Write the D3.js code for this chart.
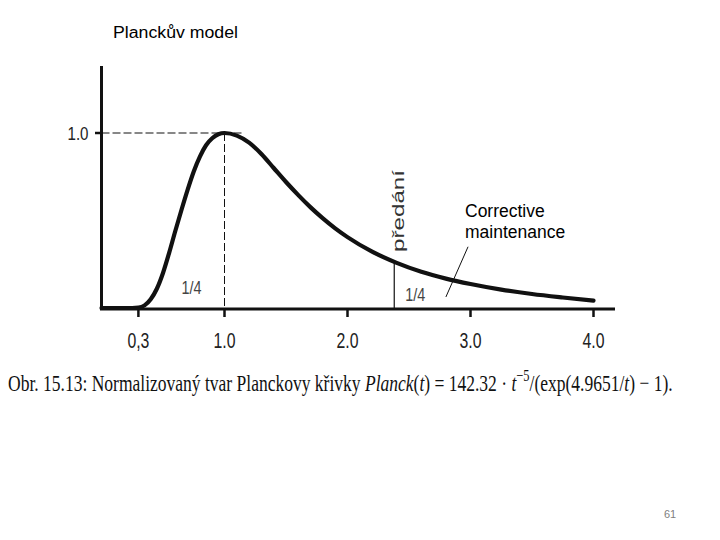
<!DOCTYPE html>
<html>
<head>
<meta charset="utf-8">
<script src="https://cdn.jsdelivr.net/npm/d3@7"></script>
<style>
  body { margin: 0; background: #fff; }
  svg { display: block; }
</style>
</head>
<body>
<svg width="720" height="540"></svg>
<script>
// data
var tValues = [0, 0.2, 0.3, 0.35, 0.4, 0.45, 0.5, 0.55, 0.6, 0.65, 0.7, 0.75, 0.8, 0.85, 0.9, 0.95, 1.0,
               1.1, 1.2, 1.3, 1.4, 1.5, 1.6, 1.7, 1.8, 1.9, 2.0, 2.2, 2.4, 2.6, 2.8, 3.0, 3.25, 3.5, 3.75, 4.0];
var planckValues = [0, 0, 0.003, 0.015, 0.05, 0.11, 0.2, 0.315, 0.44, 0.56, 0.675, 0.78, 0.865, 0.93, 0.97, 0.993, 1.0,
                    0.985, 0.945, 0.88, 0.8, 0.72, 0.645, 0.575, 0.512, 0.455, 0.405, 0.322, 0.258, 0.207, 0.168, 0.137, 0.105, 0.08, 0.06, 0.042];
var xTicks = [0.3, 1.0, 2.0, 3.0, 4.0];
var xTickLabels = ["0,3", "1.0", "2.0", "3.0", "4.0"];
var yTicks = [1.0];
var yTickLabels = ["1.0"];
var peak = [1.0, 1.0];
var handover = [2.38, 0.262];
var quarterLabels = [[0.65, 0.08], [2.47, 0.04]];
var pointer = [[2.98, 0.35], [2.8, 0.063]];

var data = tValues.map((t, i) => ({t: t, v: planckValues[i]}));

var svg = d3.select("svg");
var sans = "'Liberation Sans', Arial, sans-serif";

// scales
var x = d3.scaleLinear().domain([0, 4]).range([101.5, 593.5]);
var y = d3.scaleLinear().domain([0, 1]).range([308, 133]);

// title
svg.append("text")
    .attr("x", 113).attr("y", 38)
    .attr("font-family", sans).attr("font-size", 16)
    .attr("textLength", 125).attr("lengthAdjust", "spacingAndGlyphs")
    .text("Planckův model");

// dashed guides to the peak
svg.append("line")
    .attr("x1", x(0)).attr("x2", x(peak[0]) + 18)
    .attr("y1", y(peak[1])).attr("y2", y(peak[1]))
    .attr("stroke", "#111").attr("stroke-width", 1.2)
    .attr("stroke-dasharray", "8,3");
svg.append("line")
    .attr("x1", x(peak[0])).attr("x2", x(peak[0]))
    .attr("y1", y(peak[1])).attr("y2", y(0))
    .attr("stroke", "#111").attr("stroke-width", 1)
    .attr("stroke-dasharray", "8,3");

// handover line
svg.append("line")
    .attr("x1", x(handover[0])).attr("x2", x(handover[0]))
    .attr("y1", y(handover[1])).attr("y2", y(0))
    .attr("stroke", "#111").attr("stroke-width", 1.2);

// curve
var line = d3.line()
    .x(d => x(d.t))
    .y(d => y(d.v))
    .curve(d3.curveMonotoneX);

svg.append("path")
    .datum(data)
    .attr("d", line)
    .attr("fill", "none")
    .attr("stroke", "#111")
    .attr("stroke-width", 4.2)
    .attr("stroke-linecap", "round");

// axes
svg.append("line")
    .attr("x1", 100).attr("x2", 615)
    .attr("y1", 309).attr("y2", 309)
    .attr("stroke", "#111").attr("stroke-width", 3);
svg.append("line")
    .attr("x1", 101.5).attr("x2", 101.5)
    .attr("y1", 66).attr("y2", 310)
    .attr("stroke", "#111").attr("stroke-width", 3);

// x ticks + labels
var xt = svg.append("g").selectAll("g")
    .data(xTicks)
    .enter()
    .append("g");
xt.append("line")
    .attr("x1", d => x(d)).attr("x2", d => x(d))
    .attr("y1", 309).attr("y2", 317)
    .attr("stroke", "#111").attr("stroke-width", 2.5);
xt.append("text")
    .attr("x", d => x(d)).attr("y", 348)
    .attr("text-anchor", "middle")
    .attr("font-family", sans).attr("font-size", 22)
    .attr("fill", "#222")
    .attr("textLength", 22).attr("lengthAdjust", "spacingAndGlyphs")
    .text((d, i) => xTickLabels[i]);

// y ticks + labels
var yt = svg.append("g").selectAll("g")
    .data(yTicks)
    .enter()
    .append("g");
yt.append("line")
    .attr("x1", 95).attr("x2", 101)
    .attr("y1", d => y(d)).attr("y2", d => y(d))
    .attr("stroke", "#111").attr("stroke-width", 2.5);
yt.append("text")
    .attr("x", 78).attr("y", d => y(d) + 7)
    .attr("text-anchor", "middle")
    .attr("font-family", sans).attr("font-size", 19)
    .attr("fill", "#222")
    .attr("textLength", 21).attr("lengthAdjust", "spacingAndGlyphs")
    .text((d, i) => yTickLabels[i]);

// 1/4 labels
svg.append("g").selectAll("text")
    .data(quarterLabels)
    .enter()
    .append("text")
    .attr("x", d => x(d[0])).attr("y", d => y(d[1]))
    .attr("font-family", sans).attr("font-size", 19)
    .attr("fill", "#444")
    .attr("textLength", 20).attr("lengthAdjust", "spacingAndGlyphs")
    .text("1/4");

// předání (rotated)
svg.append("text")
    .attr("transform", "translate(404,252) rotate(-90)")
    .attr("font-family", sans).attr("font-size", 17)
    .attr("fill", "#333")
    .attr("textLength", 82).attr("lengthAdjust", "spacingAndGlyphs")
    .text("předání");

// corrective maintenance note
svg.append("text")
    .attr("x", 465).attr("y", 217)
    .attr("font-family", sans).attr("font-size", 17.5)
    .text("Corrective");
svg.append("text")
    .attr("x", 465).attr("y", 238)
    .attr("font-family", sans).attr("font-size", 17.5)
    .text("maintenance");
svg.append("line")
    .attr("x1", x(pointer[0][0])).attr("y1", y(pointer[0][1]))
    .attr("x2", x(pointer[1][0])).attr("y2", y(pointer[1][1]))
    .attr("stroke", "#111").attr("stroke-width", 1);

// caption
var cap = svg.append("text")
    .attr("font-family", "'Liberation Serif', 'Times New Roman', serif")
    .attr("font-size", 24)
    .attr("fill", "#111");
cap.append("tspan").text("Obr. 15.13: Normalizovaný tvar Planckovy křivky ");
cap.append("tspan").attr("font-style", "italic").text("Planck");
cap.append("tspan").text("(");
cap.append("tspan").attr("font-style", "italic").text("t");
cap.append("tspan").text(") = 142.32 · ");
cap.append("tspan").attr("font-style", "italic").text("t");
cap.append("tspan").attr("dy", -10).attr("font-size", 17).text("−5");
cap.append("tspan").attr("dy", 10).text("/(exp(4.9651/");
cap.append("tspan").attr("font-style", "italic").text("t");
cap.append("tspan").text(") − 1).");
var capW = cap.node().getBBox().width;
cap.attr("transform", "translate(8,391) scale(" + (665 / capW) + ",1)");

// page number
svg.append("text")
    .attr("x", 670).attr("y", 518)
    .attr("text-anchor", "middle")
    .attr("font-family", sans).attr("font-size", 11)
    .attr("fill", "#808080")
    .text("61");
</script>
</body>
</html>
